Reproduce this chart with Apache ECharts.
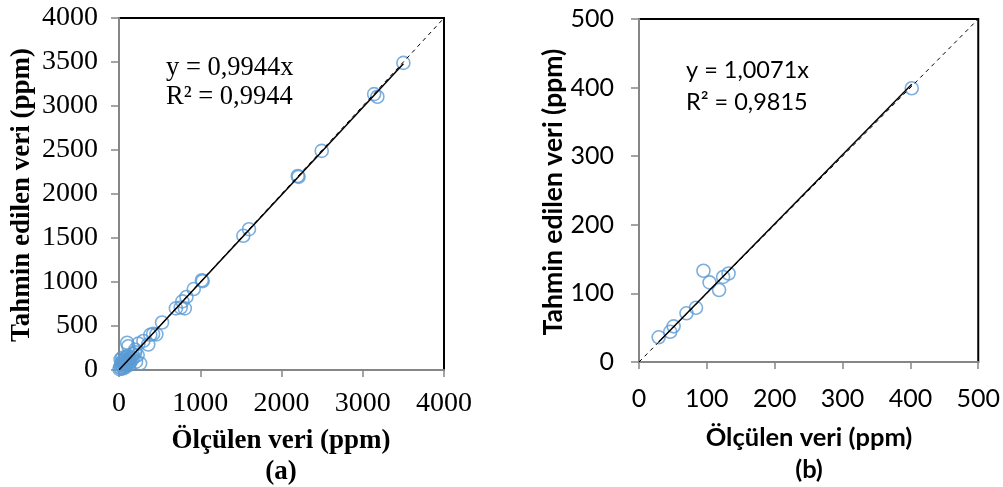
<!DOCTYPE html>
<html><head><meta charset="utf-8">
<script src="https://cdn.jsdelivr.net/npm/echarts@6/dist/echarts.min.js"></script>
<style>html,body{margin:0;padding:0;background:#fff}#c{width:1003px;height:487px}</style>
</head><body><div id="c"></div>
<script>
// Panel (a): measured vs predicted (ppm)
const measuredA = [5,15,20,25,30,35,40,45,50,55,60,65,70,75,80,85,90,95,100,105,110,120,125,130,140,150,160,170,180,200,210,230,
  100,115,240,260,200,300,360,385,420,460,530,700,760,780,810,830,920,1020,1030,1530,1600,2200,2210,2495,3140,3180,3500];
const predictedA = [10,30,120,60,15,90,140,40,100,20,70,110,50,130,85,35,150,60,110,80,160,100,60,130,90,150,120,180,140,200,95,170,
  310,270,300,75,230,330,290,400,410,405,540,700,710,780,700,830,920,1020,1010,1525,1600,2205,2195,2490,3135,3105,3490];
const slopeA = 0.9944, r2A = '0,9944';
const ticksA = [0,500,1000,1500,2000,2500,3000,3500,4000];
const ticksAx = [0,1000,2000,3000,4000];

// Panel (b)
const measuredB = [29,46,51,70,84,95,104,118,124,132,402];
const predictedB = [36,44,52,71,79,133,116,105,124,129,399];
const slopeB = 1.0071, r2B = '0,9815';
const ticksB = [0,100,200,300,400,500];

const blue = '#5B9BD5';
const chart = echarts.init(document.getElementById('c'));
const serif = '"Liberation Serif", "Times New Roman", serif';
const sans = 'Lato, "Open Sans", sans-serif';

function pairs(xs, ys){ return xs.map((x,i)=>[x, ys[i]]); }
function trend(xs, s){ const a=Math.min(...xs), b=Math.max(...xs); return [[a, a*s],[b, b*s]]; }
const plain = v => String(v);

function xAxisCfg(gi, max, interval, font, size, margin){
  return {gridIndex: gi, type:'value', min:0, max:max, interval:interval,
    axisLine:{show:true, onZero:false, lineStyle:{color:'#868686', width:2}},
    axisTick:{show:true, length:7, lineStyle:{color:'#868686', width:1.5}},
    splitLine:{show:false},
    axisLabel:{color:'#000', fontFamily:font, fontSize:size, margin:margin, formatter:plain}};
}
function yAxisCfg(gi, max, interval, font, size, margin){
  return {gridIndex: gi, type:'value', min:0, max:max, interval:interval,
    axisLine:{show:true, onZero:false, lineStyle:{color:'#868686', width:2}},
    axisTick:{show:true, length:8, lineStyle:{color:'#868686', width:1.5}},
    splitLine:{show:false},
    axisLabel:{color:'#000', fontFamily:font, fontSize:size, margin:margin, formatter:plain}};
}

const maxA = ticksA[ticksA.length-1], maxB = ticksB[ticksB.length-1];

chart.setOption({
  animation:false,
  grid:[
    {left:119, top:18, width:325, height:352, show:true, borderColor:'#000', borderWidth:2, backgroundColor:'transparent'},
    {left:639, top:19, width:341, height:343, show:true, borderColor:'#000', borderWidth:2, backgroundColor:'transparent'}
  ],
  xAxis:[ xAxisCfg(0, maxA, ticksAx[1]-ticksAx[0], serif, 28, 20), xAxisCfg(1, maxB, ticksB[1]-ticksB[0], sans, 25, 24) ],
  yAxis:[ yAxisCfg(0, maxA, ticksA[1]-ticksA[0], serif, 28, 21), yAxisCfg(1, maxB, ticksB[1]-ticksB[0], sans, 25, 25) ],
  series:[
    {type:'line', xAxisIndex:0, yAxisIndex:0, data:[[0,0],[maxA,maxA]], symbol:'none', silent:true,
      lineStyle:{color:'#000', width:1, type:[4,4]}},
    {type:'scatter', xAxisIndex:0, yAxisIndex:0, data:pairs(measuredA, predictedA), symbol:'circle', symbolSize:13,
      itemStyle:{color:'rgba(0,0,0,0)', borderColor:blue, borderWidth:1.6}},
    {type:'line', xAxisIndex:0, yAxisIndex:0, data:trend(measuredA, slopeA), symbol:'none', silent:true,
      lineStyle:{color:'#000', width:1.5}},
    {type:'line', xAxisIndex:1, yAxisIndex:1, data:[[0,0],[maxB,maxB]], symbol:'none', silent:true,
      lineStyle:{color:'#000', width:1, type:[4,4]}},
    {type:'scatter', xAxisIndex:1, yAxisIndex:1, data:pairs(measuredB, predictedB), symbol:'circle', symbolSize:13,
      itemStyle:{color:'rgba(0,0,0,0)', borderColor:blue, borderWidth:1.6}},
    {type:'line', xAxisIndex:1, yAxisIndex:1, data:trend(measuredB, slopeB), symbol:'none', silent:true,
      lineStyle:{color:'#000', width:1.5}}
  ],
  graphic:[
    {type:'text', x:166, y:68, style:{text:'y = 0,9944x', font:'26.5px '+serif, fill:'#000', verticalAlign:'middle'}},
    {type:'text', x:166, y:97, style:{text:'R² = '+r2A, font:'26.5px '+serif, fill:'#000', verticalAlign:'middle'}},
    {type:'text', x:22, y:195, rotation:Math.PI/2, style:{text:'Tahmin edilen veri (ppm)', font:'bold 27px '+serif, fill:'#000', align:'center', verticalAlign:'middle'}},
    {type:'text', x:281, y:441, style:{text:'Ölçülen veri (ppm)', font:'bold 27px '+serif, fill:'#000', align:'center', verticalAlign:'middle'}},
    {type:'text', x:281, y:472, style:{text:'(a)', font:'bold 27px '+serif, fill:'#000', align:'center', verticalAlign:'middle'}},

    {type:'text', x:686, y:70, style:{text:'y = 1,0071x', font:'23.5px '+sans, fill:'#000', verticalAlign:'middle'}},
    {type:'text', x:686, y:102, style:{text:'R² = '+r2B, font:'23.5px '+sans, fill:'#000', verticalAlign:'middle'}},
    {type:'text', x:553, y:192, rotation:Math.PI/2, style:{text:'Tahmin edilen veri (ppm)', font:'bold 26.5px '+sans, fill:'#000', align:'center', verticalAlign:'middle'}},
    {type:'text', x:809, y:438, style:{text:'Ölçülen veri (ppm)', font:'bold 25.5px '+sans, fill:'#000', align:'center', verticalAlign:'middle'}},
    {type:'text', x:809, y:470, style:{text:'(b)', font:'bold 25.5px '+sans, fill:'#000', align:'center', verticalAlign:'middle'}}
  ]
});
</script></body></html>
